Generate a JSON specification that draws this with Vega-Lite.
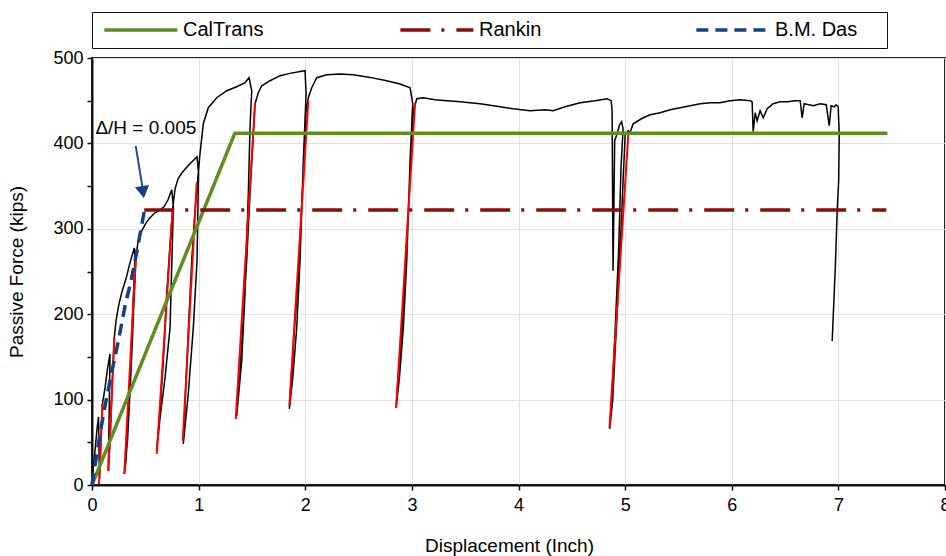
{
  "$schema": "https://vega.github.io/schema/vega-lite/v6.json",
  "autosize": {"type": "none"},
  "width": 853,
  "height": 427,
  "padding": {"left": 92, "top": 58, "right": 1, "bottom": 71},
  "background": "white",
  "config": {
    "font": "Liberation Sans",
    "view": {"stroke": "#222", "strokeWidth": 2},
    "axis": {
      "domainColor": "#111", "domainWidth": 2, "tickColor": "#111", "tickWidth": 1.5, "tickSize": 5,
      "gridColor": "#e2e2e2", "gridWidth": 1,
      "labelFont": "Liberation Sans", "labelFontSize": 18, "labelColor": "#000",
      "titleFont": "Liberation Sans", "titleFontSize": 19, "titleFontWeight": "normal", "titleColor": "#000"
    },
    "legend": {"strokeColor": "#111", "fillColor": "white"}
  },
  "datasets": {
    "measured": [
      {"o":1,"x":0,"y":0},{"o":2,"x":0.009,"y":16.4},{"o":3,"x":0.028,"y":39.8},{"o":4,"x":0.047,"y":65.6},{"o":5,"x":0.061,"y":79.7},
      {"o":6,"x":0.070,"y":7.0},{"o":7,"x":0.084,"y":51.6},{"o":8,"x":0.098,"y":94.9},{"o":9,"x":0.122,"y":113.7},{"o":10,"x":0.145,"y":135.9},
      {"o":11,"x":0.169,"y":153.5},{"o":12,"x":0.153,"y":16.4},{"o":13,"x":0.169,"y":51.6},{"o":14,"x":0.188,"y":110.1},{"o":15,"x":0.209,"y":172.3},
      {"o":16,"x":0.225,"y":192.2},{"o":17,"x":0.253,"y":212.1},{"o":18,"x":0.281,"y":226.2},{"o":19,"x":0.319,"y":241.4},{"o":20,"x":0.356,"y":260.1},
      {"o":21,"x":0.397,"y":277.7},{"o":22,"x":0.403,"y":266.0},{"o":23,"x":0.361,"y":137.1},{"o":24,"x":0.319,"y":28.1},{"o":25,"x":0.303,"y":12.9},
      {"o":26,"x":0.333,"y":51.6},{"o":27,"x":0.366,"y":133.6},{"o":28,"x":0.394,"y":215.6},{"o":29,"x":0.413,"y":267.2},{"o":30,"x":0.432,"y":285.9},
      {"o":31,"x":0.466,"y":297.6},{"o":32,"x":0.507,"y":307.0},{"o":33,"x":0.544,"y":312.9},{"o":34,"x":0.591,"y":318.7},{"o":35,"x":0.638,"y":322.2},
      {"o":36,"x":0.675,"y":325.8},{"o":37,"x":0.713,"y":334.0},{"o":38,"x":0.748,"y":345.7},{"o":39,"x":0.763,"y":325.8},{"o":40,"x":0.732,"y":184.0},
      {"o":41,"x":0.685,"y":125.4},{"o":42,"x":0.638,"y":78.5},{"o":43,"x":0.607,"y":39.8},{"o":44,"x":0.638,"y":86.7},{"o":45,"x":0.669,"y":145.3},
      {"o":46,"x":0.701,"y":223.8},{"o":47,"x":0.732,"y":282.4},{"o":48,"x":0.757,"y":324.6},{"o":49,"x":0.779,"y":346.8},{"o":50,"x":0.807,"y":358.6},
      {"o":51,"x":0.844,"y":365.6},{"o":52,"x":0.901,"y":373.8},{"o":53,"x":0.966,"y":382.0},{"o":54,"x":0.985,"y":384.3},{"o":55,"x":0.999,"y":365.6},
      {"o":56,"x":0.985,"y":262.5},{"o":57,"x":0.950,"y":184.0},{"o":58,"x":0.903,"y":106.6},{"o":59,"x":0.856,"y":48.0},{"o":60,"x":0.877,"y":106.6},
      {"o":61,"x":0.905,"y":184.0},{"o":62,"x":0.935,"y":262.5},{"o":63,"x":0.966,"y":321.1},{"o":64,"x":0.988,"y":352.7},{"o":65,"x":1.013,"y":387.9},
      {"o":66,"x":1.044,"y":423.0},{"o":67,"x":1.091,"y":441.8},{"o":68,"x":1.170,"y":453.5},{"o":69,"x":1.264,"y":461.7},{"o":70,"x":1.357,"y":466.4},
      {"o":71,"x":1.435,"y":471.1},{"o":72,"x":1.473,"y":476.9},{"o":73,"x":1.498,"y":461.7},{"o":74,"x":1.482,"y":418.3},{"o":75,"x":1.466,"y":341.0},
      {"o":76,"x":1.435,"y":223.8},{"o":77,"x":1.404,"y":145.3},{"o":78,"x":1.357,"y":80.9},{"o":79,"x":1.374,"y":106.6},{"o":80,"x":1.404,"y":165.2},
      {"o":81,"x":1.451,"y":262.5},{"o":82,"x":1.482,"y":341.0},{"o":83,"x":1.513,"y":411.3},{"o":84,"x":1.529,"y":446.5},{"o":85,"x":1.560,"y":459.3},
      {"o":86,"x":1.592,"y":467.5},{"o":87,"x":1.670,"y":473.4},{"o":88,"x":1.764,"y":479.3},{"o":89,"x":1.857,"y":482.0},{"o":90,"x":1.951,"y":484.3},
      {"o":91,"x":1.998,"y":485.1},{"o":92,"x":2.008,"y":458.2},{"o":93,"x":1.982,"y":379.7},{"o":94,"x":1.951,"y":262.5},{"o":95,"x":1.920,"y":184.0},
      {"o":96,"x":1.883,"y":125.4},{"o":97,"x":1.851,"y":89.1},{"o":98,"x":1.873,"y":133.6},{"o":99,"x":1.904,"y":192.2},{"o":100,"x":1.945,"y":262.5},
      {"o":101,"x":1.977,"y":359.7},{"o":102,"x":2.008,"y":438.2},{"o":103,"x":2.029,"y":453.5},{"o":104,"x":2.061,"y":465.2},{"o":105,"x":2.108,"y":476.9},
      {"o":106,"x":2.202,"y":480.4},{"o":107,"x":2.326,"y":481.2},{"o":108,"x":2.451,"y":480.4},{"o":109,"x":2.608,"y":477.3},{"o":110,"x":2.764,"y":473.4},
      {"o":111,"x":2.889,"y":469.5},{"o":112,"x":2.983,"y":465.2},{"o":113,"x":3.008,"y":446.5},{"o":114,"x":2.983,"y":379.7},{"o":115,"x":2.952,"y":262.5},
      {"o":116,"x":2.920,"y":184.0},{"o":117,"x":2.883,"y":125.4},{"o":118,"x":2.852,"y":90.2},{"o":119,"x":2.873,"y":125.4},{"o":120,"x":2.915,"y":203.9},
      {"o":121,"x":2.952,"y":282.4},{"o":122,"x":2.990,"y":379.7},{"o":123,"x":3.014,"y":438.2},{"o":124,"x":3.046,"y":452.3},{"o":125,"x":3.105,"y":453.5},
      {"o":126,"x":3.218,"y":451.1},{"o":127,"x":3.330,"y":450.0},{"o":128,"x":3.452,"y":448.8},{"o":129,"x":3.640,"y":446.5},{"o":130,"x":3.827,"y":442.9},
      {"o":131,"x":3.949,"y":440.6},{"o":132,"x":4.109,"y":438.2},{"o":133,"x":4.250,"y":439.4},{"o":134,"x":4.325,"y":438.2},{"o":135,"x":4.437,"y":442.9},
      {"o":136,"x":4.578,"y":447.6},{"o":137,"x":4.719,"y":450.0},{"o":138,"x":4.831,"y":452.3},{"o":139,"x":4.869,"y":450.0},{"o":140,"x":4.878,"y":438.2},
      {"o":141,"x":4.887,"y":250.8},{"o":142,"x":4.902,"y":403.1},{"o":143,"x":4.925,"y":411.3},{"o":144,"x":4.948,"y":421.8},{"o":145,"x":4.967,"y":425.4},
      {"o":146,"x":4.981,"y":417.2},{"o":147,"x":4.962,"y":373.8},{"o":148,"x":4.939,"y":274.2},{"o":149,"x":4.906,"y":180.5},{"o":150,"x":4.878,"y":110.1},
      {"o":151,"x":4.855,"y":65.6},{"o":152,"x":4.883,"y":98.4},{"o":153,"x":4.916,"y":180.5},{"o":154,"x":4.953,"y":274.2},{"o":155,"x":4.981,"y":356.2},
      {"o":156,"x":5.000,"y":409.0},{"o":157,"x":5.028,"y":414.8},{"o":158,"x":5.047,"y":412.8},{"o":159,"x":5.075,"y":423.0},{"o":160,"x":5.169,"y":430.0},
      {"o":161,"x":5.235,"y":433.6},{"o":162,"x":5.328,"y":435.9},{"o":163,"x":5.422,"y":439.4},{"o":164,"x":5.516,"y":441.8},{"o":165,"x":5.610,"y":444.1},
      {"o":166,"x":5.704,"y":446.5},{"o":167,"x":5.797,"y":447.6},{"o":168,"x":5.891,"y":447.6},{"o":169,"x":5.985,"y":450.0},{"o":170,"x":6.079,"y":451.1},
      {"o":171,"x":6.173,"y":450.0},{"o":172,"x":6.191,"y":448.8},{"o":173,"x":6.201,"y":413.6},{"o":174,"x":6.220,"y":435.9},{"o":175,"x":6.238,"y":426.5},
      {"o":176,"x":6.266,"y":438.2},{"o":177,"x":6.295,"y":430.0},{"o":178,"x":6.332,"y":440.6},{"o":179,"x":6.388,"y":446.5},{"o":180,"x":6.454,"y":448.8},
      {"o":181,"x":6.520,"y":448.8},{"o":182,"x":6.595,"y":450.0},{"o":183,"x":6.642,"y":450.0},{"o":184,"x":6.660,"y":430.0},{"o":185,"x":6.679,"y":446.5},
      {"o":186,"x":6.764,"y":444.1},{"o":187,"x":6.829,"y":446.5},{"o":188,"x":6.886,"y":445.3},{"o":189,"x":6.914,"y":420.7},{"o":190,"x":6.932,"y":444.1},
      {"o":191,"x":6.961,"y":442.9},{"o":192,"x":6.979,"y":445.3},{"o":193,"x":6.998,"y":442.9},{"o":194,"x":7.008,"y":411.3},{"o":195,"x":7.003,"y":356.2},
      {"o":196,"x":6.989,"y":321.1},{"o":197,"x":6.970,"y":250.8},{"o":198,"x":6.942,"y":168.7}
    ],
    "fits": [
      {"seg":1,"x":0.066,"y":1.2},{"seg":1,"x":0.098,"y":94.9},
      {"seg":2,"x":0.153,"y":16.4},{"seg":2,"x":0.209,"y":172.3},
      {"seg":3,"x":0.303,"y":12.9},{"seg":3,"x":0.410,"y":266.0},
      {"seg":4,"x":0.607,"y":36.3},{"seg":4,"x":0.757,"y":323.4},
      {"seg":5,"x":0.851,"y":51.6},{"seg":5,"x":0.982,"y":353.9},
      {"seg":6,"x":1.348,"y":77.3},{"seg":6,"x":1.529,"y":447.6},
      {"seg":7,"x":1.851,"y":92.6},{"seg":7,"x":2.029,"y":450.0},
      {"seg":8,"x":2.852,"y":90.2},{"seg":8,"x":3.030,"y":447.6},
      {"seg":9,"x":4.853,"y":66.8},{"seg":9,"x":5.031,"y":412.8}
    ],
    "models": [
      {"model":"CalTrans","o":1,"x":0,"y":0},{"model":"CalTrans","o":2,"x":1.34,"y":412},{"model":"CalTrans","o":3,"x":7.46,"y":412},
      {"model":"Rankin","o":1,"x":0.49,"y":322},{"model":"Rankin","o":2,"x":7.45,"y":322},
      {"model":"B.M. Das","o":1,"x":0,"y":0},{"model":"B.M. Das","o":2,"x":0.023,"y":18.7},{"model":"B.M. Das","o":3,"x":0.075,"y":59.8},
      {"model":"B.M. Das","o":4,"x":0.131,"y":98.4},{"model":"B.M. Das","o":5,"x":0.178,"y":127.7},{"model":"B.M. Das","o":6,"x":0.247,"y":168.7},
      {"model":"B.M. Das","o":7,"x":0.310,"y":209.7},{"model":"B.M. Das","o":8,"x":0.366,"y":239.0},{"model":"B.M. Das","o":9,"x":0.413,"y":268.3},
      {"model":"B.M. Das","o":10,"x":0.460,"y":299.9},{"model":"B.M. Das","o":11,"x":0.491,"y":321.1}
    ],
    "arrow": [{"x":0.41,"y":397,"x2":0.474,"y2":348}],
    "head": [{"x":0.478,"y":343}],
    "note": [{"x":0.505,"y":418,"text":"Δ/H = 0.005"}]
  },
  "layer": [
    {
      "data": {"name": "measured"},
      "mark": {"type": "line", "color": "#000", "strokeWidth": 1.5},
      "encoding": {
        "x": {"field": "x", "type": "quantitative", "scale": {"domain": [0, 8], "nice": false},
              "axis": {"title": "Displacement (Inch)", "values": [0,1,2,3,4,5,6,7,8], "format": "d", "labelPadding": 6, "titlePadding": 22, "titleX": 417, "labelFlush": false}},
        "y": {"field": "y", "type": "quantitative", "scale": {"domain": [0, 500], "nice": false},
              "axis": {"title": "Passive Force (kips)", "values": [0,50,100,150,200,250,300,350,400,450,500],
                       "labelExpr": "datum.value % 100 === 0 ? datum.label : ''",
                       "gridOpacity": {"condition": {"test": "datum.value % 100 === 0", "value": 1}, "value": 0},
                       "labelPadding": 4, "titlePadding": 26}},
        "order": {"field": "o", "type": "quantitative"}
      }
    },
    {
      "data": {"name": "fits"},
      "mark": {"type": "line", "color": "#ff0000", "strokeWidth": 2},
      "encoding": {
        "x": {"field": "x", "type": "quantitative"},
        "y": {"field": "y", "type": "quantitative"},
        "detail": {"field": "seg", "type": "nominal"}
      }
    },
    {
      "data": {"name": "models"},
      "mark": {"type": "line", "strokeWidth": 3.5},
      "encoding": {
        "x": {"field": "x", "type": "quantitative"},
        "y": {"field": "y", "type": "quantitative"},
        "order": {"field": "o", "type": "quantitative"},
        "color": {"field": "model", "type": "nominal",
                  "scale": {"domain": ["CalTrans", "Rankin", "B.M. Das"], "range": ["#5e8f1e", "#8b0a0a", "#173f86"]},
                  "legend": {"title": " ", "titleOrient": "right", "titlePadding": 22, "titleFontSize": 19, "orient": "none", "direction": "horizontal", "legendX": 0, "legendY": -46,
                             "symbolType": "M-0.77,0H9.23", "symbolSize": 213, "symbolStrokeWidth": 3.5,
                             "labelFontSize": 20, "labelFont": "Liberation Sans", "labelColor": "#000", "labelOffset": 63,
                             "columnPadding": 127, "gridAlign": "all", "padding": 8, "columns": 3}},
        "strokeDash": {"field": "model", "type": "nominal",
                       "scale": {"domain": ["CalTrans", "Rankin", "B.M. Das"], "range": [[1, 0], [30, 11, 3, 12], [12, 7]]},
                       "legend": {"title": " ", "titleOrient": "right", "titlePadding": 22, "titleFontSize": 19, "orient": "none", "direction": "horizontal", "legendX": 0, "legendY": -46,
                             "symbolType": "M-0.77,0H9.23", "symbolSize": 213, "symbolStrokeWidth": 3.5,
                             "labelFontSize": 20, "labelFont": "Liberation Sans", "labelColor": "#000", "labelOffset": 63,
                             "columnPadding": 127, "gridAlign": "all", "padding": 8, "columns": 3}}
      }
    },
    {
      "data": {"name": "arrow"},
      "mark": {"type": "rule", "color": "#1f4e99", "strokeWidth": 2},
      "encoding": {
        "x": {"field": "x", "type": "quantitative"},
        "y": {"field": "y", "type": "quantitative"},
        "x2": {"field": "x2"},
        "y2": {"field": "y2"}
      }
    },
    {
      "data": {"name": "head"},
      "mark": {"type": "point", "shape": "triangle-down", "filled": true, "color": "#173f86", "size": 200, "angle": 351, "opacity": 1},
      "encoding": {
        "x": {"field": "x", "type": "quantitative"},
        "y": {"field": "y", "type": "quantitative"}
      }
    },
    {
      "data": {"name": "note"},
      "mark": {"type": "text", "font": "Liberation Sans", "fontSize": 19, "color": "#000", "align": "center", "baseline": "middle"},
      "encoding": {
        "x": {"field": "x", "type": "quantitative"},
        "y": {"field": "y", "type": "quantitative"},
        "text": {"field": "text"}
      }
    }
  ]
}
